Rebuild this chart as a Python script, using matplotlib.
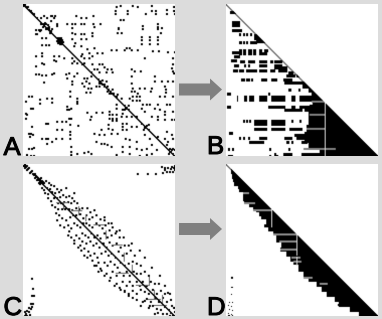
import numpy as np
import matplotlib
matplotlib.use("Agg")
import matplotlib.pyplot as plt
from matplotlib.patches import Polygon
import matplotlib.patheffects as pe

plt.rcParams['font.family'] = ['Liberation Sans', 'DejaVu Sans']

SIZE = 151
panel_labels = ['A', 'B', 'C', 'D']

# ---- panel A : nonzero cells (col, row) ----
a_ends = [0, 150]
a_upper_left = [(0,1),(3,3),(7,6),(10,9),(13,13),(17,13),(22,19),(20,21),(23,23),(27,26),(28,11),(23,13),(27,16),(17,19),(19,19),(22,24),(25,24),(13,29),(16,26),(20,11),(30,13),(1,0),(2,2),(4,2),(5,5),(8,8),(20,20),(21,18),(24,20),(25,22),(19,22),(26,28),(28,24)]
a_blocks = [(33,33),(35,33),(37,33),(34,35),(36,35),(38,35),(33,36),(35,37),(37,37),(39,37),(34,38),(36,39),(38,39),(36,34),(34,37),(37,36),(74,74),(76,76),(78,75),(77,78),(80,79),(75,78),(84,84),(86,86),(88,84),(85,88),(87,88),(83,86),(89,88),(100,100),(102,102),(104,100),(100,104),(104,104),(101,103),(120,122),(122,120),(121,121),(124,119),(119,124),(124,124),(146,146),(147,144),(144,148)]
a_top_right = [(96,1),(92,2),(108,1),(113,2),(127,1),(149,2),(91,6),(103,6),(91,9),(103,9),(121,9),(127,6),(131,6),(131,9),(142,5),(142,9),(149,6),(150,9),(133,19),(133,22),(133,24),(94,23),(94,24),(96,15),(99,15),(118,21),(118,24),(137,23),(93,28),(97,28),(136,28),(117,32),(117,35),(117,39),(125,32),(125,35),(125,39),(133,32),(133,35),(133,39),(102,43),(105,43),(100,45),(107,45),(113,45),(87,45),(92,45),(128,46),(134,46),(143,47),(150,47),(120,53),(148,53),(148,59),(147,63),(148,66),(149,68),(107,64),(110,66),(116,66)]
a_upper_mid = [(52,11),(57,13),(62,13),(69,11),(20,11),(27,11),(31,11),(48,19),(51,19),(57,19),(60,19),(69,19),(76,19),(33,19),(43,19),(33,21),(48,23),(70,22),(12,25),(15,25),(17,25),(12,29),(48,28),(51,29),(57,29),(60,29),(68,28),(68,31),(62,34),(48,34),(51,38),(57,34),(18,40),(22,40),(25,40),(18,33),(22,33),(50,41),(57,41),(63,44),(70,43),(73,48),(78,48),(65,48),(58,49),(18,48),(18,51),(12,51),(30,51),(35,51),(40,53),(30,55),(32,56),(48,53),(50,56),(57,51),(60,53),(65,53),(68,51),(12,61),(18,58),(20,59),(30,68),(28,69),(12,69),(15,69),(18,70),(22,70),(48,58),(53,58),(58,59),(60,58)]
a_middle = [(68,59),(75,59),(78,59),(80,62),(83,64),(87,64),(70,64),(73,64),(75,67),(82,67),(88,67),(67,67),(53,68),(50,71),(45,68),(42,69),(48,76),(48,79),(43,73),(20,77),(60,73),(63,73),(67,71),(58,78),(62,76),(65,78),(60,81),(64,83),(67,83),(62,87),(66,87),(75,76),(82,76),(78,79),(80,81),(83,81),(72,81),(75,81),(107,71),(107,78),(108,83),(107,86),(130,71),(130,76),(137,76),(143,76),(148,76),(127,83),(126,86),(120,83),(115,83),(140,81),(141,84),(141,87),(110,86),(113,88),(108,91),(112,91),(115,91),(108,95),(112,95),(115,95),(93,89),(92,91),(97,93),(105,93),(135,91),(140,91),(148,91)]
a_lower_left = [(46,86),(46,91),(53,93),(53,96),(53,98),(2,96),(5,91),(8,91),(16,94),(16,98),(23,93),(28,93),(28,97),(7,103),(9,103),(2,108),(3,109),(2,113),(43,101),(45,104),(47,103),(43,104),(63,107),(72,107),(78,107),(85,106),(67,111),(66,114),(22,118),(24,118),(33,116),(38,116),(42,116),(45,113),(47,113),(33,124),(38,124),(46,119),(54,120),(8,121),(5,128),(7,128),(9,129),(6,131),(46,126),(46,129),(46,133),(18,133),(22,133),(24,133),(32,133),(38,133),(23,138),(28,136),(47,141),(47,146),(47,149),(53,148),(60,147),(64,146),(67,148),(5,143),(8,143),(10,142),(3,149),(7,150),(10,150)]
a_lower_right = [(92,99),(92,103),(85,109),(88,109),(92,109),(85,113),(88,113),(92,113),(88,115),(92,115),(98,104),(98,108),(97,111),(102,111),(107,111),(112,111),(118,99),(122,99),(125,99),(133,99),(142,99),(145,99),(117,103),(130,103),(135,104),(140,106),(148,106),(120,106),(127,111),(133,111),(140,109),(147,114),(150,114),(133,114),(140,114),(98,118),(98,121),(98,124),(102,124),(107,121),(112,121),(117,118),(102,118),(84,119),(84,123),(88,124),(77,124),(70,128),(75,129),(80,129),(87,128),(93,128),(101,133),(105,134),(112,136),(120,129),(125,133),(133,131),(83,139),(87,141),(77,138),(80,138),(72,136),(142,126),(147,129),(148,133),(140,133),(142,139),(143,136),(98,141),(105,141),(112,143),(117,144),(122,143),(127,139),(132,144),(92,149),(98,146),(105,148),(115,150),(122,149),(127,148),(145,143),(148,143),(150,144),(145,146),(148,148)]

# ---- panel B : black runs (row, first col, last col) ----
b_ends = [0, 96]
b_runs = [(7,4,9),(17,6,13),(20,6,13),(25,6,15),(29,13,14),(29,17,18),(29,20,21),(29,24,25),(37,13,15),(37,17,18),(37,20,21),(37,24,30),
          (30,28,33),(33,28,36),(36,30,39),
          (45,13,15),(45,17,19),(45,22,25),(45,27,29),(45,33,35),(45,38,41),(48,13,15),(48,17,19),(48,22,25),(48,27,29),(48,33,40),
          (47,6,12),(51,8,13),(55,5,10),(56,14,18),(56,22,28),(56,33,40),(56,44,46),(56,48,55),(60,8,12),(60,18,19),(60,22,23),(60,33,40),(60,48,55),(62,48,60),
          (65,7,11),(65,13,17),(65,20,30),(65,33,40),(65,44,48),(65,52,60),(74,15,18),(74,20,21),(74,22,23),(74,25,26),(74,35,40),(74,45,50),(74,57,65),(77,58,78),(67,62,66),(70,60,68),(70,70,72),
          (84,62,64),(84,72,73),(88,1,4),(88,42,43),(91,11,11),(91,18,20),(91,23,27),(91,33,40),(91,45,58),(91,65,68),(91,73,85),(94,11,11),(94,18,20),(94,23,27),(94,33,40),(94,45,58),(94,65,68),(94,73,85),
          (101,1,4),(101,42,58),(101,65,68),(101,73,83),(104,58,75),(104,78,87),
          (115,17,18),(115,20,21),(115,23,24),(115,28,40),(115,45,58),(115,65,66),(115,73,74),(118,28,40),(118,45,58),(123,28,40),(123,45,58),(123,63,75),(127,3,6),(129,68,80),
          (132,13,14),(132,17,18),(132,22,23),(132,33,40),(132,58,65),(132,70,80),(136,23,37),(136,60,62),(136,65,66),(136,75,80),
          (143,2,3),(143,6,7),(143,43,44),(143,62,63),(148,48,49),(148,57,65),(148,75,90),(150,2,6),(150,43,44),(150,50,51),(150,60,65),(150,75,90)]
b_front_rows = [78, 80, 84, 88, 93, 100, 107, 113, 120, 127, 133, 138, 144, 148]
b_front_cols = [76, 76, 82, 85, 86, 83, 82, 82, 80, 78, 78, 82, 93, 90]
b_gray_runs = [(96,85,98),(109,83,98),(123,80,98),(143,77,108)]
b_white_col = [98]
b_white_from = [96]

# ---- panel C : nonzero cells (col, row) ----
c_ends = [14, 150]
c_top_left = [(0,1),(1,0),(2,2),(3,1),(1,3),(4,4),(5,3),(3,5),(7,7),(8,6),(6,8),(9,9),(10,10),(11,9),(12,11),(11,13),(13,12),(14,13),(13,15),(15,14),(16,15),(17,13),(15,18),(18,16),(16,19),(19,17),(20,18)]
c_corner_tr = [(113,9),(123,9),(131,9),(138,8),(140,5),(143,3),(147,2),(150,1),(142,7),(145,7),(148,7),(150,5),(137,2),(140,3),(146,4),(149,3)]
c_corner_bl = [(8,113),(9,123),(8,130),(10,130),(7,138),(9,138),(5,142),(7,143),(3,145),(2,148),(6,149),(3,150),(1,146),(5,146),(8,141),(1,150)]
c_band_1 = [(22,16),(25,18),(27,20),(18,23),(20,25),(23,23),(26,24),(30,21),(33,24),(21,28),(24,29),(28,27),(31,28),(35,27),(37,25),(42,23),(24,33),(27,36),(30,33),(33,33),(36,32),(39,30),(42,32),(45,31),(48,33),(28,40),(31,42),(34,38),(37,38),(40,37),(44,37),(47,38),(50,36),(53,38)]
c_band_2 = [(32,48),(35,50),(34,44),(38,44),(41,44),(45,44),(48,45),(52,43),(55,44),(58,43),(63,43),(66,47),(38,53),(42,55),(46,52),(49,50),(52,50),(56,49),(59,53),(62,50),(65,54),(68,52),(72,50),(76,54),(80,55),(84,58),(44,60),(47,63),(45,66),(50,58),(53,60),(56,62),(59,58),(62,58),(65,60),(68,62),(72,58),(75,60),(78,63),(81,60),(85,65),(88,62),(92,66)]
c_band_3 = [(52,70),(55,73),(50,75),(58,68),(61,70),(64,72),(67,68),(70,72),(73,70),(76,73),(80,68),(83,72),(87,70),(91,68),(95,72),(99,72),(56,80),(60,83),(58,76),(62,78),(66,76),(69,80),(72,78),(75,82),(79,78),(82,82),(85,77),(88,80),(92,78),(96,82),(100,80),(104,80)]
c_band_4 = [(66,90),(68,95),(64,86),(70,88),(73,92),(77,88),(81,86),(84,90),(87,88),(91,92),(94,86),(98,90),(102,88),(106,85),(110,90),(72,100),(76,103),(74,97),(80,97),(83,100),(86,96),(90,99),(93,102),(96,97),(100,100),(104,98),(108,96),(112,98),(116,100)]
c_band_5 = [(82,108),(86,112),(88,106),(92,110),(95,107),(99,110),(102,106),(105,110),(109,106),(112,108),(116,108),(120,106),(124,110),(92,118),(95,122),(98,116),(102,120),(105,116),(108,120),(112,116),(115,120),(118,116),(122,120),(126,116),(130,118),(134,118)]
c_band_6 = [(100,126),(104,128),(108,125),(112,128),(116,124),(120,126),(124,128),(128,124),(132,128),(136,125),(140,128),(143,127),(112,134),(118,136),(122,133),(126,136),(130,133),(134,136),(138,132),(142,136),(146,134),(124,142),(128,140),(132,143),(136,144),(140,141),(144,144),(147,140),(149,142),(133,147),(138,148),(142,148),(146,147),(148,149),(150,150),(145,150),(150,146)]
c_edges = [(33,55),(40,62),(44,70),(50,78),(57,85),(63,92),(70,100),(77,105),(85,115),(90,120),(100,125),(108,132),(120,135),(125,140),(130,148),(50,28),(70,45),(80,52),(87,58),(95,65),(107,78),(115,85),(120,92),(127,102),(135,110),(140,120),(145,128),(36,60),(47,72),(54,82),(60,90),(74,106),(80,110),(96,124),(104,130),(116,140)]
c_segments_v = [(40,38,44),(55,42,50),(62,50,56),(82,66,74),(100,88,96),(108,100,108),(125,112,120),(130,125,133),(138,130,140)]
c_segments_h = [(38,33,44),(46,48,58),(60,70,80),(80,88,98),(108,92,104),(120,112,124),(134,124,136),(140,130,142)]

# ---- panel D ----
d_ends = [0, 5]
d_front_rows = [5,10,15,18,22,25,28,32,37,40,43,45,48,52,55,60,63,67,70,75,78,83,87,92,97,100,107,112,117,122,127,132,137,142,147]
d_front_cols = [5,6,7,8,12,13,17,17,18,23,27,30,33,35,40,38,42,47,50,50,55,54,60,64,67,72,77,82,90,95,100,108,112,123,132]
d_gray_runs = [(28,17,22),(38,18,28),(45,27,45),(69,47,70),(76,53,70),(84,54,70),(92,65,73),(96,67,74),(112,77,85),(118,93,100)]
d_white_col = [45, 70, 70]
d_white_first = [45, 70, 92]
d_white_last = [62, 90, 100]
d_black_bars = [(139,111,123)]
d_points = [(5,112),(5,113),(6,112),(6,113),(5,122),(6,122),(5,129),(3,137),(6,137),(2,140),(5,141),(3,144),(6,145),(2,148),(5,149),(3,150),(6,150),(2,150)]


def cells(*groups):
    m = np.zeros((SIZE, SIZE))
    for g in groups:
        for c, r in g:
            m[r:r + 2, c:c + 2] = 1.0
    return m


def diagonal(m, ends, value):
    for i in range(ends[0], ends[1] + 1):
        m[i, i] = max(m[i, i], value)
        if i + 1 < SIZE:
            m[i + 1, i] = max(m[i + 1, i], value)


def put_runs(m, runs, value, height):
    for r, s, e in runs:
        m[r:r + height, s:e + 1] = value


def put_front(m, rows, cols):
    bounds = list(rows) + [SIZE]
    for i, c in enumerate(cols):
        m[bounds[i]:bounds[i + 1], c:] = 1.0


# Panel A
mat_a = cells(a_upper_left, a_blocks, a_top_right, a_upper_mid, a_middle, a_lower_left, a_lower_right)
diagonal(mat_a, a_ends, 1.0)

# Panel B
mat_b = np.zeros((SIZE, SIZE))
put_runs(mat_b, b_runs, 1.0, 3)
put_front(mat_b, b_front_rows, b_front_cols)
put_runs(mat_b, b_gray_runs, 0.5, 2)
for col, start in zip(b_white_col, b_white_from):
    mat_b[start:, col] = 0.15
mat_b = np.tril(mat_b)
diagonal(mat_b, b_ends, 0.55)

# Panel C
mat_c = cells(c_top_left, c_corner_tr, c_corner_bl, c_band_1, c_band_2, c_band_3, c_band_4, c_band_5, c_band_6, c_edges)
for col, first, last in c_segments_v:
    mat_c[first:last + 1, col] = 0.6
for row, first, last in c_segments_h:
    mat_c[row, first:last + 1] = 0.6
diagonal(mat_c, c_ends, 1.0)

# Panel D
mat_d = np.zeros((SIZE, SIZE))
put_front(mat_d, d_front_rows, d_front_cols)
put_runs(mat_d, d_black_bars, 1.0, 2)
put_runs(mat_d, d_gray_runs, 0.45, 2)
for col, first, last in zip(d_white_col, d_white_first, d_white_last):
    mat_d[first:last + 1, col] = 0.15
for c, r in d_points:
    mat_d[r, c] = 1.0
mat_d = np.tril(mat_d)
diagonal(mat_d, d_ends, 0.55)

W, H = 382, 319
fig = plt.figure(figsize=(W / 100, H / 100), dpi=100, facecolor='#dcdcdc')

panels = [(mat_a, 23, 4), (mat_b, 226, 4), (mat_c, 23, 164), (mat_d, 226, 164)]
for m, px, py in panels:
    ax = fig.add_axes([px / W, 1 - (py + 152) / H, 152 / W, 152 / H])
    ax.imshow(m, cmap='gray_r', vmin=0, vmax=1, interpolation='gaussian', aspect='auto')
    ax.set_xticks([])
    ax.set_yticks([])
    for s in ax.spines.values():
        s.set_visible(False)

over = fig.add_axes([0, 0, 1, 1], facecolor='none')
over.set_xlim(0, W)
over.set_ylim(H, 0)
over.axis('off')
for cy in (89.5, 229):
    over.add_patch(Polygon([(179, cy - 6), (210, cy - 6), (210, cy - 11), (222, cy),
                            (210, cy + 11), (210, cy + 6), (179, cy + 6)],
                           closed=True, fc='#808080', ec='none'))
for txt, x, y in zip(panel_labels, (3.5, 207, 3.5, 207), (155, 154, 315, 315)):
    over.text(x, y, txt, fontsize=18.5, color='black', ha='left', va='baseline',
              path_effects=[pe.withStroke(linewidth=0.7, foreground='black')])

fig.savefig('out.png', dpi=100, facecolor=fig.get_facecolor())
